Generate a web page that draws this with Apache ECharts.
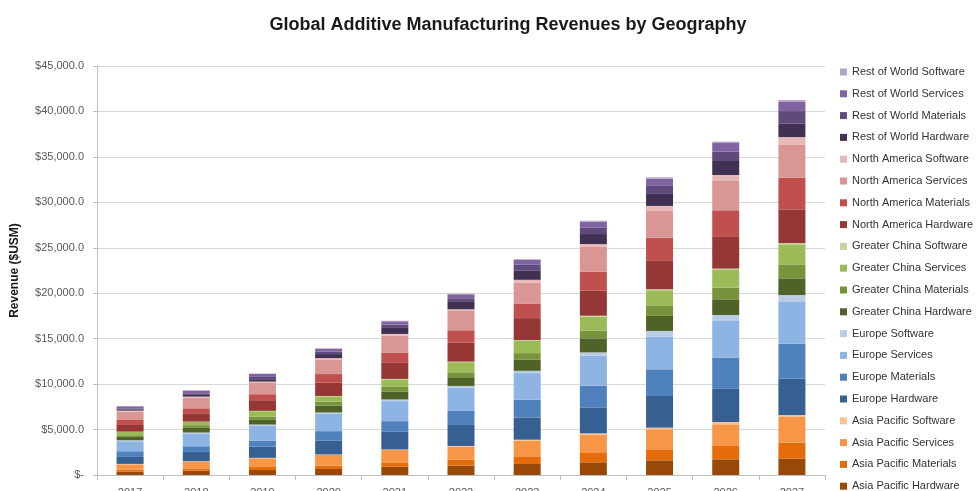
<!DOCTYPE html>
<html>
<head>
<meta charset="utf-8">
<script src="https://cdn.jsdelivr.net/npm/echarts@6/dist/echarts.min.js"></script>
<style>
html,body{margin:0;padding:0;background:#fff;}
#chart{width:976px;height:491px;}
</style>
</head>
<body>
<div id="chart"></div>
<script>
var years = ['2017','2018','2019','2020','2021','2022','2023','2024','2025','2026','2027'];
var yTicks = [0, 5000, 10000, 15000, 20000, 25000, 30000, 35000, 40000, 45000];

var apHardware   = [365, 475, 550, 660, 915, 1025, 1210, 1395, 1615, 1725, 1795];
var apMaterials  = [220, 255, 330, 365, 475, 660, 845, 1025, 1210, 1465, 1760];
var apServices   = [585, 735, 955, 1175, 1355, 1430, 1720, 2015, 2200, 2385, 2825];
var apSoftware   = [50, 50, 50, 60, 60, 80, 110, 145, 185, 255, 220];
var euHardware   = [770, 1025, 1245, 1540, 1945, 2310, 2450, 2860, 3485, 3705, 3995];
var euMaterials  = [625, 625, 660, 1025, 1175, 1540, 1945, 2385, 2935, 3375, 3850];
var euServices   = [1100, 1395, 1650, 1905, 2200, 2570, 2930, 3300, 3595, 4035, 4585];
var euSoftware   = [110, 110, 110, 145, 185, 185, 255, 365, 625, 660, 770];
var gcHardware   = [365, 515, 515, 770, 845, 955, 1210, 1540, 1650, 1725, 1835];
var gcMaterials  = [185, 295, 365, 440, 550, 550, 735, 845, 1100, 1285, 1540];
var gcServices   = [365, 365, 585, 550, 805, 1100, 1355, 1540, 1725, 1945, 2200];
var gcSoftware   = [30, 30, 40, 50, 60, 70, 75, 110, 110, 145, 145];
var naHardware   = [735, 915, 1175, 1465, 1835, 2090, 2420, 2750, 3190, 3485, 3705];
var naMaterials  = [550, 550, 660, 955, 1025, 1355, 1610, 2090, 2495, 2935, 3485];
var naServices   = [915, 1175, 1245, 1615, 1905, 2130, 2310, 2750, 2935, 3225, 3665];
var naSoftware   = [110, 110, 145, 145, 185, 185, 295, 295, 550, 660, 805];
var rowHardware  = [145, 185, 255, 440, 660, 805, 990, 1100, 1320, 1540, 1505];
var rowMaterials = [110, 185, 255, 255, 365, 405, 660, 735, 880, 1025, 1355];
var rowServices  = [220, 295, 330, 330, 365, 440, 550, 625, 800, 950, 1060];
var rowSoftware  = [30, 30, 40, 50, 60, 60, 75, 110, 150, 150, 150];

var seriesDefs = [
  ['Asia Pacific Hardware', apHardware, '#984807'],
  ['Asia Pacific Materials', apMaterials, '#E46C0A'],
  ['Asia Pacific Services', apServices, '#F79646'],
  ['Asia Pacific Software', apSoftware, '#FAC090'],
  ['Europe Hardware', euHardware, '#376092'],
  ['Europe Materials', euMaterials, '#4F81BD'],
  ['Europe Services', euServices, '#8EB4E3'],
  ['Europe Software', euSoftware, '#B9CDE5'],
  ['Greater China Hardware', gcHardware, '#4F6228'],
  ['Greater China Materials', gcMaterials, '#77933C'],
  ['Greater China Services', gcServices, '#9BBB59'],
  ['Greater China Software', gcSoftware, '#C3D69B'],
  ['North America Hardware', naHardware, '#953735'],
  ['North America Materials', naMaterials, '#C0504D'],
  ['North America Services', naServices, '#D99694'],
  ['North America Software', naSoftware, '#E6B9B8'],
  ['Rest of World Hardware', rowHardware, '#403152'],
  ['Rest of World Materials', rowMaterials, '#604A7B'],
  ['Rest of World Services', rowServices, '#8064A2'],
  ['Rest of World Software', rowSoftware, '#B3A2C7']
];

function fmtMoney(v) {
  if (v === 0) return '$-';
  var s = Math.round(v).toString().replace(/\B(?=(\d{3})+(?!\d))/g, ',');
  return '$' + s + '.0';
}

var series = seriesDefs.map(function (d) {
  return {
    name: d[0],
    type: 'bar',
    stack: 'total',
    data: d[1],
    barWidth: 27,
    itemStyle: { color: d[2] },
    emphasis: { disabled: true }
  };
});

var legendNames = seriesDefs.map(function (d) { return d[0]; }).reverse();

var chart = echarts.init(document.getElementById('chart'), null, { renderer: 'canvas' });
chart.setOption({
  animation: false,
  backgroundColor: '#ffffff',
  textStyle: { fontFamily: 'Liberation Sans, Arial, sans-serif' },
  title: {
    text: 'Global Additive Manufacturing Revenues by Geography',
    left: 503,
    textAlign: 'center',
    top: 11,
    textStyle: { fontSize: 18, fontWeight: 'bold', color: '#1a1a1a', fontFamily: 'Liberation Sans, Arial, sans-serif' }
  },
  legend: {
    orient: 'vertical',
    left: 840,
    top: 66,
    height: 440,
    padding: 0,
    itemWidth: 7,
    itemHeight: 7,
    itemGap: 9.8,
    icon: 'rect',
    data: legendNames,
    selectedMode: false,
    textStyle: { fontSize: 11, color: '#333333', lineHeight: 12 }
  },
  grid: { left: 97, right: 151, top: 66, bottom: 16, containLabel: false, outerBoundsMode: 'none' },
  xAxis: {
    type: 'category',
    data: years,
    axisLine: { lineStyle: { color: '#BFBFBF' } },
    axisTick: { show: true, length: 5, lineStyle: { color: '#BFBFBF' } },
    axisLabel: { fontSize: 11, color: '#595959', margin: 12 }
  },
  yAxis: {
    type: 'value',
    min: yTicks[0],
    max: yTicks[yTicks.length - 1],
    interval: 5000,
    name: 'Revenue ($USM)',
    nameLocation: 'middle',
    nameGap: 76,
    nameTextStyle: { fontSize: 12, fontWeight: 'bold', color: '#1a1a1a' },
    axisLine: { show: true, lineStyle: { color: '#BFBFBF' } },
    axisTick: { show: true, length: 4, lineStyle: { color: '#BFBFBF' } },
    axisLabel: { fontSize: 11, color: '#595959', margin: 13, formatter: fmtMoney },
    splitLine: { lineStyle: { color: '#D9D9D9' } }
  },
  series: series
});
</script>
</body>
</html>
